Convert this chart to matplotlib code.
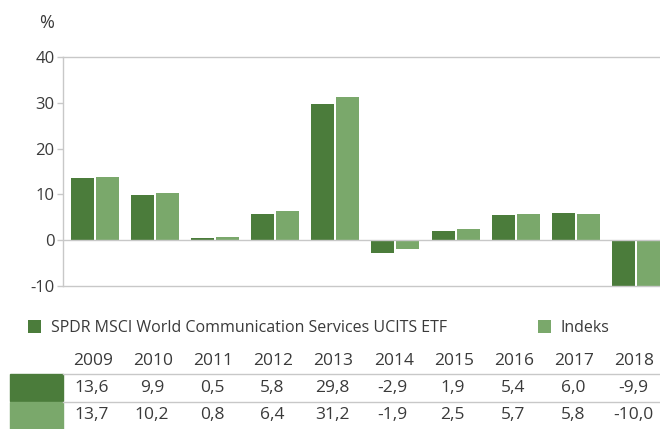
import numpy as np
import matplotlib.pyplot as plt
from matplotlib.patches import Rectangle, Patch
from matplotlib.lines import Line2D
import matplotlib.transforms as mtrans

plt.rcParams['font.family'] = ['Open Sans', 'DejaVu Sans']
plt.rcParams['axes.unicode_minus'] = False

years = ['2009', '2010', '2011', '2012', '2013', '2014', '2015', '2016', '2017', '2018']
etf = [13.6, 9.9, 0.5, 5.8, 29.8, -2.9, 1.9, 5.4, 6.0, -9.9]
indeks = [13.7, 10.2, 0.8, 6.4, 31.2, -1.9, 2.5, 5.7, 5.8, -10.0]
names = ['SPDR MSCI World Communication Services UCITS ETF', 'Indeks']

dark = '#4b7c3b'
light = '#7aa86b'
grid = '#c8c8c8'
txt = '#3a3a3a'
fs = 12
tfs = 12.5

W, H = 660, 429
fig = plt.figure(figsize=(W / 100, H / 100), dpi=100)
ax = fig.add_axes([63 / W, 1 - 286 / H, 1 - 63 / W, (286 - 57) / H])

x = np.arange(len(years))
bw = 0.383
off = 0.208
ax.bar(x - off, etf, bw, color=dark, clip_on=False)
ax.bar(x + off, indeks, bw, color=light, clip_on=False)

ax.set_xlim(-0.53, 9.40)
ax.set_ylim(-10, 40)
ax.set_yticks([-10, 0, 10, 20, 30, 40])
ax.set_xticks([])
ax.spines['right'].set_visible(False)
for s in ['left', 'top', 'bottom']:
    ax.spines[s].set_color(grid)
    ax.spines[s].set_linewidth(1)
ax.axhline(0, color=grid, lw=1, zorder=3)
ax.tick_params(axis='y', colors=grid, labelcolor=txt, labelsize=fs, length=4, width=1, pad=2)

fig.text(47 / W, 1 - 23 / H, '%', color=txt, fontsize=13, ha='center', va='center')

# legend
handles = [Patch(facecolor=dark), Patch(facecolor=light)]
fig.legend(handles, names, loc='center left', bbox_to_anchor=(14 / W, 1 - 328 / H),
           ncol=2, frameon=False, fontsize=11.5, handlelength=0.8, handleheight=0.8,
           handletextpad=0.6, columnspacing=5.7, labelcolor=txt)

# table
tr = mtrans.blended_transform_factory(ax.transData, fig.transFigure)
for i, yr in enumerate(years):
    fig.text(i - 0.03, 1 - 361 / H, yr, transform=tr, ha='center', va='center',
             color=txt, fontsize=tfs)
    fig.text(i - 0.05, 1 - 388 / H, f'{etf[i]:.1f}'.replace('.', ','), transform=tr,
             ha='center', va='center', color=txt, fontsize=tfs)
    fig.text(i - 0.05, 1 - 415 / H, f'{indeks[i]:.1f}'.replace('.', ','), transform=tr,
             ha='center', va='center', color=txt, fontsize=tfs)

fig.add_artist(Rectangle((10 / W, 1 - 401 / H), 53 / W, 27 / H, color=dark,
                         transform=fig.transFigure))
fig.add_artist(Rectangle((10 / W, 0), 53 / W, 27 / H, color=light,
                         transform=fig.transFigure))
for yy in [374, 402]:
    fig.add_artist(Line2D([63 / W, 1], [1 - yy / H, 1 - yy / H], color=grid, lw=1,
                          transform=fig.transFigure))

fig.savefig('out.png', dpi=100)
